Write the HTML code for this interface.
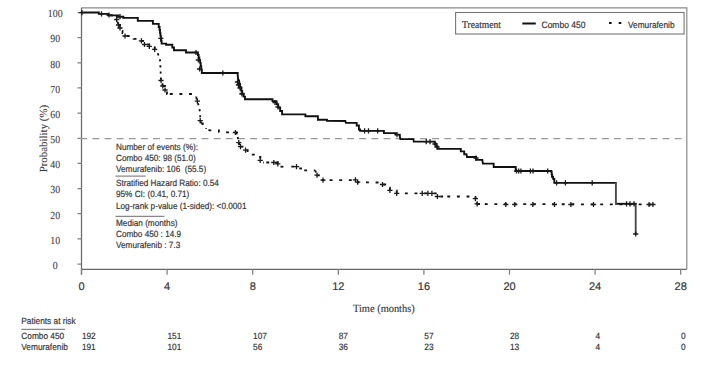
<!DOCTYPE html>
<html><head><meta charset="utf-8"><style>
html,body{margin:0;padding:0;background:#fff;}
svg{display:block;text-rendering:geometricPrecision;}
text{fill:#383838;stroke:#383838;stroke-width:0.2px;}
.serif{font-family:"Liberation Serif",serif;stroke-width:0.08px;}
.sans{font-family:"Liberation Sans",sans-serif;}
</style></head><body>
<svg width="705" height="372" viewBox="0 0 705 372">
<rect width="705" height="372" fill="#fff"/>
<path d="M81.5 7.8H686.8V269.3" fill="none" stroke="#8a8a8a" stroke-width="1.2"/>
<path d="M81.5 7.8V274.7M81.5 269.3H686.8" fill="none" stroke="#686868" stroke-width="1.25"/>
<path d="M77.5 12.50H81.5M77.5 37.65H81.5M77.5 62.80H81.5M77.5 87.95H81.5M77.5 113.10H81.5M77.5 138.25H81.5M77.5 163.40H81.5M77.5 188.55H81.5M77.5 213.70H81.5M77.5 238.85H81.5M77.5 264.00H81.5M81.50 269.3V274.7M167.10 269.3V274.7M252.70 269.3V274.7M338.30 269.3V274.7M423.90 269.3V274.7M509.50 269.3V274.7M595.10 269.3V274.7M680.70 269.3V274.7" fill="none" stroke="#808080" stroke-width="1.25"/>
<path d="M80.3 138.6H682" fill="none" stroke="#999" stroke-width="1.05" stroke-dasharray="6.9 5.23"/>
<rect x="455.6" y="12.5" width="228.5" height="21.5" fill="#fff" stroke="#777" stroke-width="1.1"/>
<path d="M522.3 23.5H535.8" stroke="#111" stroke-width="2"/>
<path d="M609 23.1H611.6M618.7 23.1H621.3" stroke="#111" stroke-width="2"/>
<text class="serif" transform="translate(462.00 28.00) scale(0.91 1)" font-size="10.5" style="stroke-width:0.22px">Treatment</text><text class="sans" transform="translate(541.50 27.50) scale(0.91 1)" font-size="9.340659340659341">Combo 450</text><text class="sans" transform="translate(628.00 27.50) scale(0.91 1)" font-size="9.120879120879122">Vemurafenib</text>
<text class="serif" transform="translate(55.20 17.30) scale(0.91 1)" font-size="10.8" text-anchor="middle">100</text><text class="serif" transform="translate(55.20 42.45) scale(0.91 1)" font-size="10.8" text-anchor="middle">90</text><text class="serif" transform="translate(55.20 67.60) scale(0.91 1)" font-size="10.8" text-anchor="middle">80</text><text class="serif" transform="translate(55.20 92.75) scale(0.91 1)" font-size="10.8" text-anchor="middle">70</text><text class="serif" transform="translate(55.20 117.90) scale(0.91 1)" font-size="10.8" text-anchor="middle">60</text><text class="serif" transform="translate(55.20 143.05) scale(0.91 1)" font-size="10.8" text-anchor="middle">50</text><text class="serif" transform="translate(55.20 168.20) scale(0.91 1)" font-size="10.8" text-anchor="middle">40</text><text class="serif" transform="translate(55.20 193.35) scale(0.91 1)" font-size="10.8" text-anchor="middle">30</text><text class="serif" transform="translate(55.20 218.50) scale(0.91 1)" font-size="10.8" text-anchor="middle">20</text><text class="serif" transform="translate(55.20 243.65) scale(0.91 1)" font-size="10.8" text-anchor="middle">10</text><text class="serif" transform="translate(55.20 268.80) scale(0.91 1)" font-size="10.8" text-anchor="middle">0</text>
<text class="serif" font-size="10.9" transform="translate(46.6 138.6) rotate(-90)" text-anchor="middle">Probability (%)</text>
<text class="sans" x="81.50" y="290.00" font-size="11" text-anchor="middle">0</text><text class="sans" x="167.10" y="290.00" font-size="11" text-anchor="middle">4</text><text class="sans" x="252.70" y="290.00" font-size="11" text-anchor="middle">8</text><text class="sans" x="338.30" y="290.00" font-size="11" text-anchor="middle">12</text><text class="sans" x="423.90" y="290.00" font-size="11" text-anchor="middle">16</text><text class="sans" x="509.50" y="290.00" font-size="11" text-anchor="middle">20</text><text class="sans" x="595.10" y="290.00" font-size="11" text-anchor="middle">24</text><text class="sans" x="680.70" y="290.00" font-size="11" text-anchor="middle">28</text>
<text class="serif" transform="translate(353.00 311.90) scale(0.945 1)" font-size="11.0" style="stroke-width:0.15px">Time (months)</text>
<g fill="none" stroke="#111" stroke-width="1.8"><path d="M110.00 15.40L116.70 15.60" stroke-dasharray="2.9 6.72"/><path d="M116.7,15.6 L117.5,22.0 L118.5,25.0" stroke-dasharray="2.2 3.9"/><path d="M118.50 25.00H120.00V28.00H121.50V31.00H122.50V33.00H125.00V36.00H133.60V38.80H141.40V40.80H144.50V44.50H149.30V46.30H154.70V49.30H157.80V53.50" stroke-dasharray="2.9 6.72"/><path d="M157.8,53.5 L160.0,60.0 L160.3,64.5 L160.6,70.8 L160.8,77.0 L161.0,80.5 L162.8,86.0" stroke-dasharray="2.2 3.9"/><path d="M162.80 86.00H165.00V90.00H167.00V94.00L167.40 94.00" stroke-dasharray="2.9 6.72"/><path d="M169.80 94.00L190.60 94.00H196.20V97.40" stroke-dasharray="2.9 6.72"/><path d="M196.2,97.4 L197.4,101.1 L199.0,107.0 L200.2,112.7 L200.2,120.6 L201.3,123.5" stroke-dasharray="2.2 3.9"/><path d="M201.30 123.50H202.75V125.85H204.20V128.20H206.10V128.93" stroke-dasharray="2.9 6.72"/><path d="M208.50 129.86L209.90 130.40H218.90V131.90L227.50 132.30L235.40 132.50H236.55V134.75H237.70V137.00" stroke-dasharray="2.9 6.72"/><path d="M237.7,137.0 L238.8,142.7 L240.5,146.7" stroke-dasharray="2.2 3.9"/><path d="M240.50 146.70H245.60V150.10H247.60V152.35H249.60V154.60H257.00V156.90H260.40V160.40H262.00V162.50L263.90 162.50" stroke-dasharray="2.9 6.72"/><path d="M266.30 162.50L273.80 162.50H277.80V163.80H279.50V166.70L279.50 166.70" stroke-dasharray="2.9 6.72"/><path d="M280.50 166.70L288.90 166.70" stroke-dasharray="2.9 6.72"/><path d="M291.30 166.70L296.50 166.70H298.80V168.40H301.00V170.40L301.80 170.40" stroke-dasharray="2.9 6.72"/><path d="M304.20 170.40L315.30 170.40" stroke-dasharray="2.9 6.72"/><path d="M315.3,170.4 L316.8,175.3" stroke-dasharray="2.2 3.9"/><path d="M316.80 175.30H318.80V177.75H320.80V180.20L327.20 180.20" stroke-dasharray="2.9 6.72"/><path d="M329.60 180.20L355.40 180.20H357.70V182.30L376.20 182.50H382.50V184.50H387.00V187.60H389.90V190.40H396.70V193.30L402.50 193.30" stroke-dasharray="2.9 6.72"/><path d="M404.90 193.30L434.70 193.30H437.40V196.50L444.90 196.50" stroke-dasharray="2.9 6.72"/><path d="M447.30 196.50L475.40 196.50" stroke-dasharray="2.9 6.72"/><path d="M475.4,196.5 L477.1,204.0" stroke-dasharray="2.2 3.9"/><path d="M477.10 204.00L482.40 204.01" stroke-dasharray="2.9 6.72"/><path d="M484.80 204.02L654.00 204.50" stroke-dasharray="2.9 6.72"/></g>
<path d="M114.1 19.5H119.3M116.7 16.9V22.1M115.9 25.0H121.1M118.5 22.4V27.6M117.4 28.0H122.6M120.0 25.4V30.6M122.4 36.0H127.6M125.0 33.4V38.6M138.8 40.8H144.0M141.4 38.2V43.4M141.9 44.5H147.1M144.5 41.9V47.1M146.7 46.3H151.9M149.3 43.7V48.9M152.1 49.3H157.3M154.7 46.7V51.9M158.4 80.5H163.6M161.0 77.9V83.1M160.2 86.0H165.4M162.8 83.4V88.6M162.4 90.0H167.6M165.0 87.4V92.6M194.8 101.1H200.0M197.4 98.5V103.7M197.6 120.6H202.8M200.2 118.0V123.2M232.8 132.5H238.0M235.4 129.9V135.1M236.2 142.7H241.4M238.8 140.1V145.3M237.9 146.7H243.1M240.5 144.1V149.3M243.0 150.1H248.2M245.6 147.5V152.7M257.6 160.4H262.8M260.2 157.8V163.0M271.2 162.5H276.4M273.8 159.9V165.1M275.2 163.8H280.4M277.8 161.2V166.4M293.9 166.7H299.1M296.5 164.1V169.3M314.4 175.2H319.6M317.0 172.6V177.8M320.4 180.2H325.6M323.0 177.6V182.8M352.8 179.9H358.0M355.4 177.3V182.5M355.1 182.1H360.3M357.7 179.5V184.7M379.9 184.5H385.1M382.5 181.9V187.1M387.3 190.4H392.5M389.9 187.8V193.0M394.1 193.3H399.3M396.7 190.7V195.9M419.6 193.3H424.8M422.2 190.7V195.9M425.3 193.3H430.5M427.9 190.7V195.9M429.3 193.3H434.5M431.9 190.7V195.9M434.8 196.5H440.0M437.4 193.9V199.1M472.8 198.7H478.0M475.4 196.1V201.3M474.5 203.8H479.7M477.1 201.2V206.4M503.2 204.5H508.4M505.8 201.9V207.1M512.2 204.5H517.4M514.8 201.9V207.1M530.3 204.5H535.5M532.9 201.9V207.1M551.9 204.5H557.1M554.5 201.9V207.1M568.3 204.5H573.5M570.9 201.9V207.1M590.9 204.5H596.1M593.5 201.9V207.1M646.5 204.5H651.7M649.1 201.9V207.1M650.3 204.5H655.5M652.9 201.9V207.1" fill="none" stroke="#1a1a1a" stroke-width="1.3"/>
<path d="M81.50 12.50L97.40 12.50H98.80V13.90L107.00 13.90H108.00V15.40L117.30 15.40H118.50V16.70L122.50 16.70H123.30V17.90L135.00 17.90H137.80V20.90L151.10 20.90H152.90V23.90L157.80 23.90H158.70V26.95H159.60V30.00H160.00V32.80H160.40V35.60H160.80V38.40H161.20V41.00H161.60V43.60H166.10V44.80L170.60 44.80H172.30V47.50H174.00V50.20L183.10 50.20H186.00V52.50L195.60 52.50H197.90V55.00H198.63V57.63H199.37V60.27H200.10V62.90H200.67V66.27H201.23V69.63H201.80V73.00L236.50 73.00H237.70V74.80L238.20 80.40H239.10V83.80H240.00V87.20H241.10V90.60H242.20V94.00H243.60V96.60H245.00V99.20L269.60 99.30H272.50V101.10H276.50V104.20H278.20V107.60H280.15V111.00H282.10V114.40L303.70 114.40H305.40V116.30L316.80 116.30H317.90V119.70L325.80 119.70H327.00V120.90L345.30 121.00L345.90 122.90L353.80 122.90H356.70V125.50H358.90V129.50H360.10V130.90L382.80 130.90H383.90V133.10L392.40 133.10H395.80V134.60H399.80V136.30L400.40 139.10L413.30 139.10L413.80 141.60L432.00 141.60H434.80V143.80H436.25V146.35H437.70V148.90L459.20 148.90H460.80V151.40L463.00 151.40H464.20V154.20L466.50 154.20L467.00 157.00L473.80 157.00H476.10V159.90L482.30 159.90L482.90 163.60L492.60 163.60H493.70V167.00L513.00 167.00H515.70V171.00L550.30 171.00H551.40V172.10H551.70V174.40H552.00V176.70H553.10V178.90H554.30V182.90L616.60 182.90" fill="none" stroke="#111" stroke-width="1.9" stroke-linejoin="miter"/>
<path d="M615.2 203.8H636.4" fill="none" stroke="#111" stroke-width="1.9"/>
<path d="M615.9 182.2V204.5M635.7 203.1V234" fill="none" stroke="#4a4a4a" stroke-width="1.9"/>
<path d="M220.3 73.0H225.5M222.9 70.4V75.6M235.9 85.0H241.1M238.5 82.4V87.6M239.4 94.0H244.6M242.0 91.4V96.6M158.2 38.4H163.4M160.8 35.8V41.0M193.4 52.5H198.6M196.0 49.9V55.1M195.7 60.0H200.9M198.3 57.4V62.6M196.9 69.0H202.1M199.5 66.4V71.6M234.9 82.0H240.1M237.5 79.4V84.6M237.4 88.0H242.6M240.0 85.4V90.6M239.4 93.5H244.6M242.0 90.9V96.1M272.4 102.5H277.6M275.0 99.9V105.1M275.4 107.0H280.6M278.0 104.4V109.6M362.0 130.9H367.2M364.6 128.3V133.5M365.9 130.9H371.1M368.5 128.3V133.5M375.1 130.9H380.3M377.7 128.3V133.5M423.7 141.6H428.9M426.3 139.0V144.2M427.4 141.6H432.6M430.0 139.0V144.2M432.4 144.0H437.6M435.0 141.4V146.6M434.4 147.0H439.6M437.0 144.4V149.6M473.4 158.0H478.6M476.0 155.4V160.6M394.4 134.6H399.6M397.0 132.0V137.2M513.9 171.0H519.1M516.5 168.4V173.6M516.1 171.0H521.3M518.7 168.4V173.6M518.3 171.0H523.5M520.9 168.4V173.6M527.8 171.0H533.0M530.4 168.4V173.6M530.4 171.0H535.6M533.0 168.4V173.6M545.1 171.0H550.3M547.7 168.4V173.6M554.0 182.9H559.2M556.6 180.3V185.5M562.8 182.9H568.0M565.4 180.3V185.5M589.6 182.9H594.8M592.2 180.3V185.5M623.9 203.8H629.1M626.5 201.2V206.4M627.3 203.8H632.5M629.9 201.2V206.4M631.4 203.8H636.6M634.0 201.2V206.4M633.1 234.0H638.3M635.7 231.4V236.6M98.9 13.9H104.1M101.5 11.3V16.5M106.4 15.0H111.6M109.0 12.4V17.6M117.4 16.7H122.6M120.0 14.1V19.3M79.3 12.6H84.5M81.9 10.0V15.2" fill="none" stroke="#1a1a1a" stroke-width="1.3"/>
<text class="sans" transform="translate(116.00 149.80) scale(0.91 1)" font-size="9.01098901098901">Number of events (%):</text><text class="sans" transform="translate(116.00 161.10) scale(0.91 1)" font-size="9.01098901098901">Combo 450: 98 (51.0)</text><text class="sans" transform="translate(116.00 171.80) scale(0.91 1)" font-size="9.01098901098901">Vemurafenib: 106&#160; (55.5)</text><text class="sans" transform="translate(116.00 186.10) scale(0.91 1)" font-size="9.01098901098901">Stratified Hazard Ratio: 0.54</text><text class="sans" transform="translate(116.00 197.00) scale(0.91 1)" font-size="9.01098901098901">95% CI: (0.41, 0.71)</text><text class="sans" transform="translate(116.00 208.60) scale(0.91 1)" font-size="9.01098901098901">Log-rank p-value (1-sided): &lt;0.0001</text><text class="sans" transform="translate(116.00 225.70) scale(0.91 1)" font-size="9.01098901098901">Median (months)</text><text class="sans" transform="translate(116.00 237.00) scale(0.91 1)" font-size="9.01098901098901">Combo 450 : 14.9</text><text class="sans" transform="translate(116.00 247.90) scale(0.91 1)" font-size="9.01098901098901">Vemurafenib : 7.3</text>
<path d="M115.5 176.1H145.5M115.5 216.3H164.5" stroke="#6a6a6a" stroke-width="1"/>
<text class="sans" transform="translate(21.30 323.50) scale(0.91 1)" font-size="9.120879120879122">Patients at risk</text><text class="sans" transform="translate(21.30 339.00) scale(0.91 1)" font-size="9.120879120879122">Combo 450</text><text class="sans" transform="translate(21.30 349.50) scale(0.91 1)" font-size="9.120879120879122">Vemurafenib</text>
<text class="sans" transform="translate(81.90 339.00) scale(0.91 1)" font-size="9.120879120879122">192</text><text class="sans" transform="translate(81.90 349.50) scale(0.91 1)" font-size="9.120879120879122">191</text><text class="sans" transform="translate(167.50 339.00) scale(0.91 1)" font-size="9.120879120879122">151</text><text class="sans" transform="translate(167.50 349.50) scale(0.91 1)" font-size="9.120879120879122">101</text><text class="sans" transform="translate(253.10 339.00) scale(0.91 1)" font-size="9.120879120879122">107</text><text class="sans" transform="translate(253.10 349.50) scale(0.91 1)" font-size="9.120879120879122">56</text><text class="sans" transform="translate(338.70 339.00) scale(0.91 1)" font-size="9.120879120879122">87</text><text class="sans" transform="translate(338.70 349.50) scale(0.91 1)" font-size="9.120879120879122">36</text><text class="sans" transform="translate(424.30 339.00) scale(0.91 1)" font-size="9.120879120879122">57</text><text class="sans" transform="translate(424.30 349.50) scale(0.91 1)" font-size="9.120879120879122">23</text><text class="sans" transform="translate(509.90 339.00) scale(0.91 1)" font-size="9.120879120879122">28</text><text class="sans" transform="translate(509.90 349.50) scale(0.91 1)" font-size="9.120879120879122">13</text><text class="sans" transform="translate(595.50 339.00) scale(0.91 1)" font-size="9.120879120879122">4</text><text class="sans" transform="translate(595.50 349.50) scale(0.91 1)" font-size="9.120879120879122">4</text><text class="sans" transform="translate(681.10 339.00) scale(0.91 1)" font-size="9.120879120879122">0</text><text class="sans" transform="translate(681.10 349.50) scale(0.91 1)" font-size="9.120879120879122">0</text>
<path d="M21.3 329.3H65" stroke="#6a6a6a" stroke-width="1"/>
</svg>
</body></html>
